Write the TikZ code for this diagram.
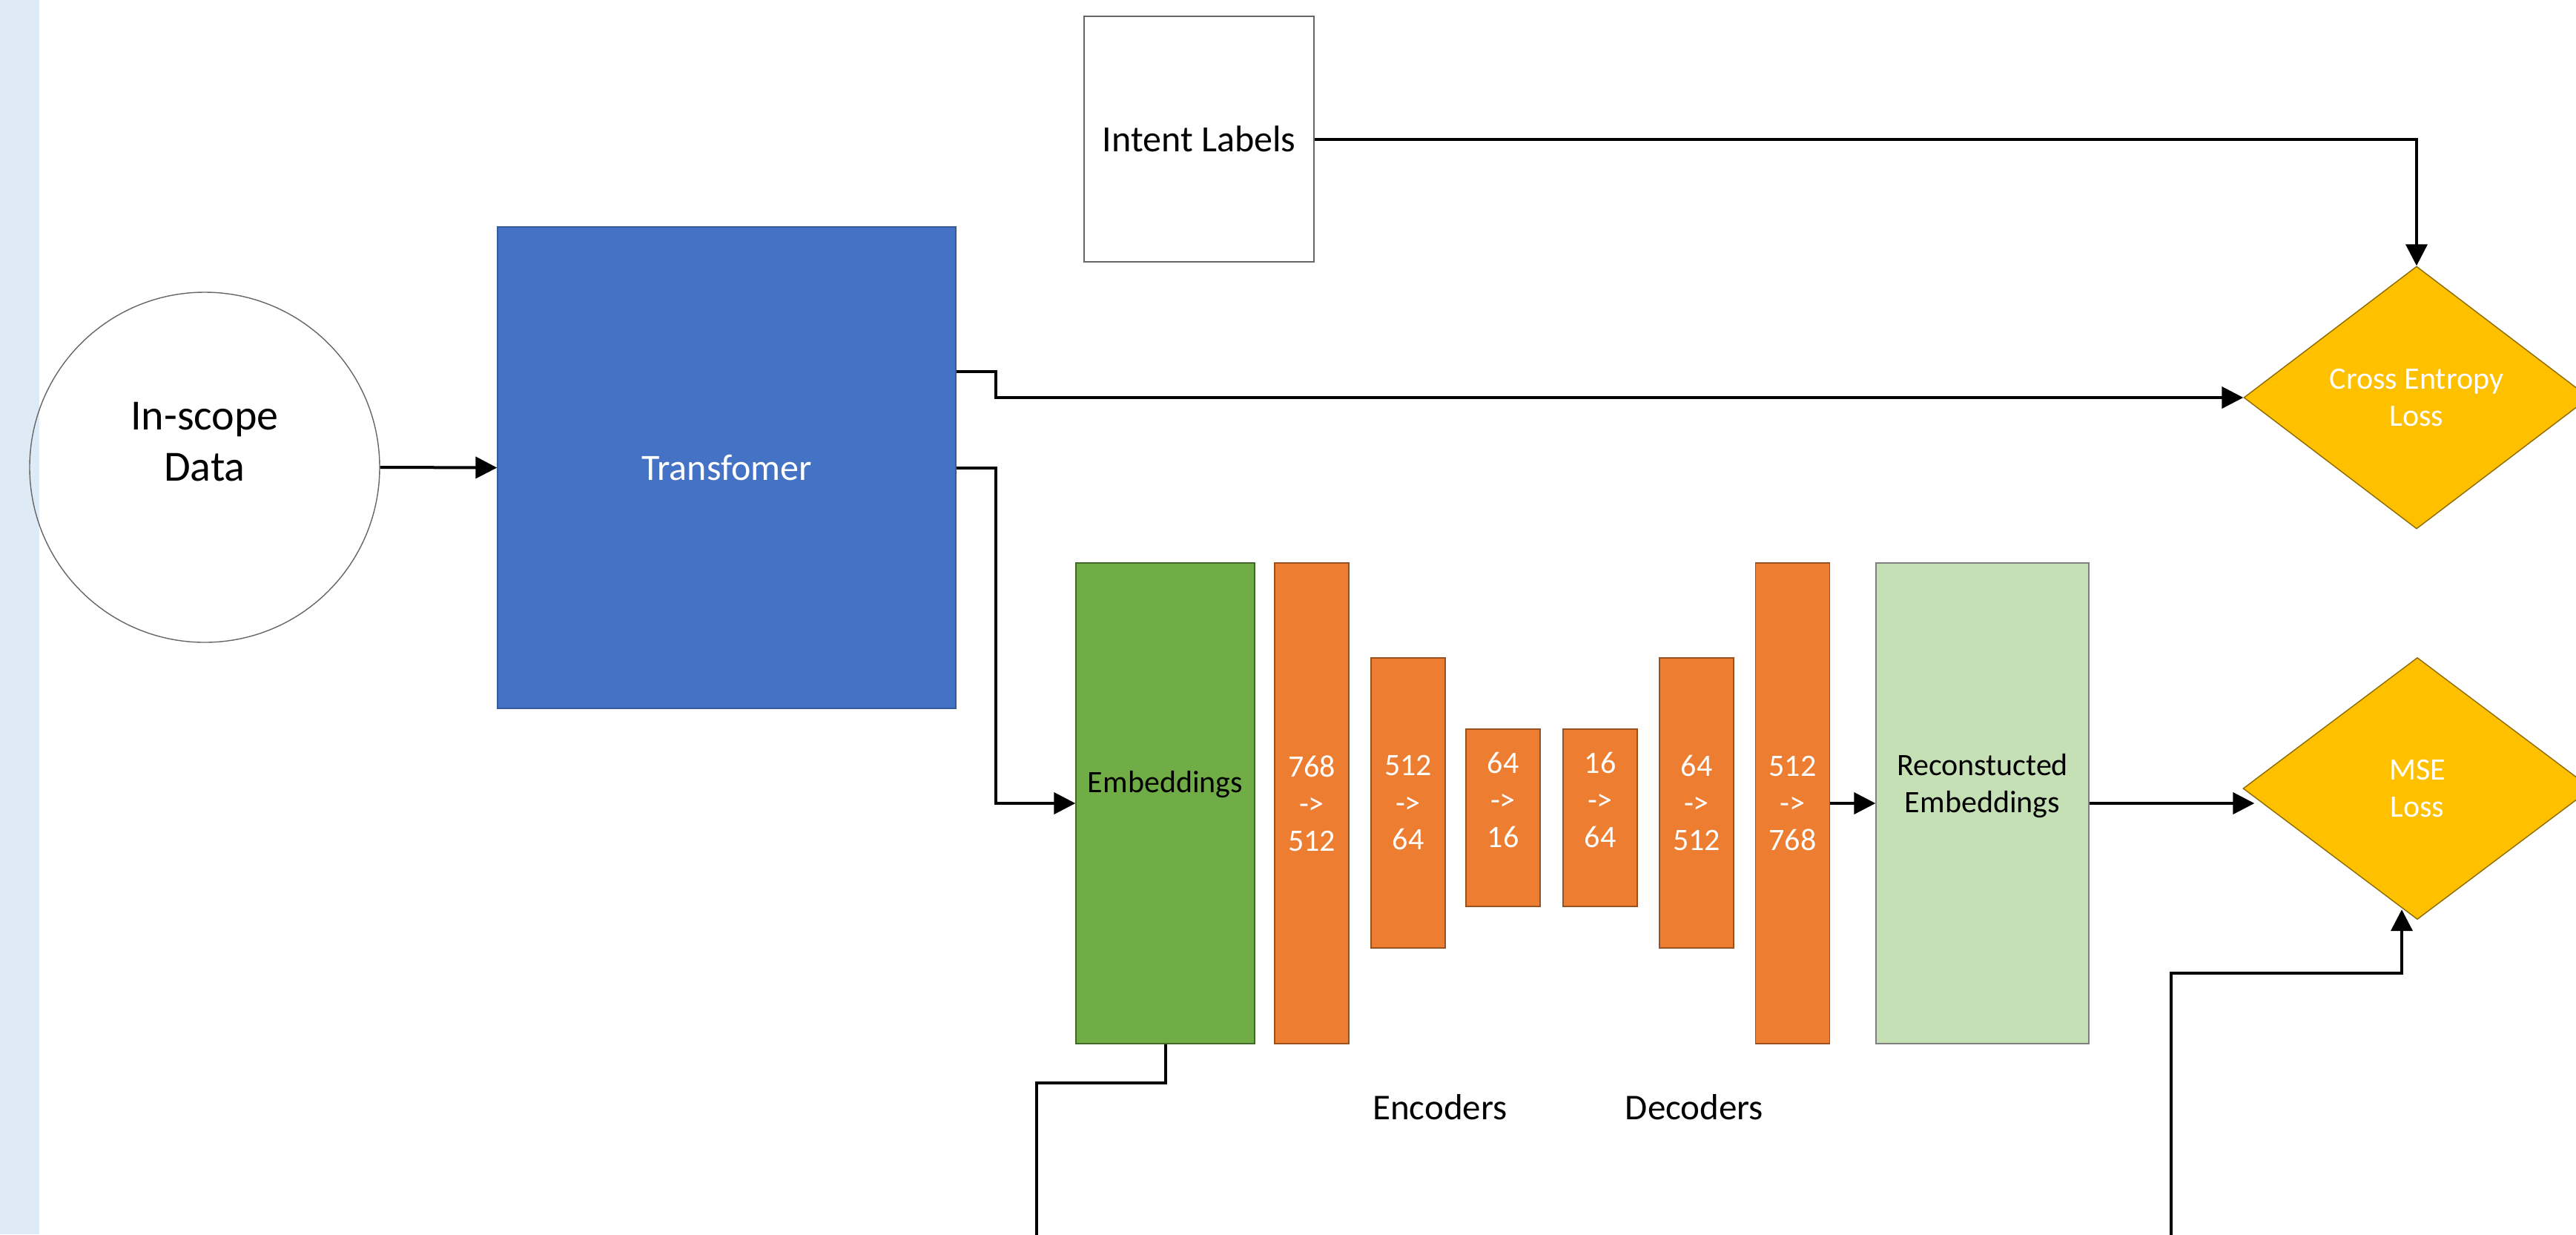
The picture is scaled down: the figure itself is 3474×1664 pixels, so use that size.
\documentclass[tikz,border=0pt]{standalone}
\usepackage{fontspec}
\setmainfont{Carlito}
\usetikzlibrary{shapes.geometric,arrows.meta,calc}
\definecolor{bandblue}{RGB}{222,235,247}
\definecolor{tblue}{RGB}{68,114,196}
\definecolor{egreen}{RGB}{112,173,71}
\definecolor{lgreen}{RGB}{197,224,180}
\definecolor{orng}{RGB}{237,125,49}
\definecolor{gold}{RGB}{255,192,0}
\begin{document}
\begin{tikzpicture}[x=0.25pt,y=-0.25pt,
  box/.style={rectangle,inner sep=0pt,line width=0.35pt},
  layer/.style={box,fill=orng,draw=orng!65!black,minimum width=25pt,text=white,align=center,font=\fontsize{10.5}{12.5}\selectfont},
  tall/.style={minimum height=162pt},
  mid/.style={minimum height=97.75pt},
  short/.style={minimum height=59.75pt},
  lossbox/.style={diamond,inner sep=0pt,fill=gold,draw=gold!55!black,line width=0.35pt,text=white,align=center,font=\fontsize{10.5}{12.5}\selectfont},
  lbl/.style={inner sep=0pt,align=center},
  conn/.style={line width=1pt},
  arr/.style={conn,-{Triangle[length=7.25pt,width=7.25pt]}}
]
\useasboundingbox (0,0) rectangle (3474,1664);
\clip (0,0) rectangle (3474,1664);
\fill[bandblue] (0,0) rectangle (53,1664);

% nodes
\node[circle,draw=black!60,line width=0.35pt,minimum size=118pt,inner sep=0pt] (data) at (276,630) {};
\node[lbl,font=\fontsize{14.5}{17.25}\selectfont] (datatxt) at (276,596) {In-scope\\Data};

\node[box,fill=tblue,draw=tblue!80!black,minimum width=154.5pt,minimum height=162.25pt,text=white,font=\fontsize{12.5}{15}\selectfont] (tr) at (980,630.5) {Transfomer};

\node[box,draw=black!60,fill=white,minimum width=77.5pt,minimum height=82.75pt,font=\fontsize{12.5}{15}\selectfont] (il) at (1617,187.5) {Intent Labels};

\node[lossbox,minimum width=116.5pt,minimum height=88.5pt] (ce) at (3259,536) {Cross Entropy\\Loss};
\node[lossbox,minimum width=117.5pt,minimum height=88.25pt] (mse) at (3260,1063) {MSE\\Loss};

\node[box,fill=egreen,draw=egreen!60!black,minimum width=60.25pt,tall] (emb) at (1571.5,1083) {};
\node[lbl,font=\fontsize{10.5}{12.5}\selectfont] (embtxt) at (1571.5,1058) {Embeddings};

\node[layer,tall] (o1) at (1769,1083) {768\\->\\512};
\node[layer,mid] (o2) at (1899,1082.5) {512\\->\\64};
\node[layer,short] (o3) at (2027,1102.5) {};
\node[lbl,text=white,font=\fontsize{10.5}{12.5}\selectfont] (o3txt) at (2027,1078) {64\\->\\16};
\node[layer,short] (o4) at (2158,1102.5) {};
\node[lbl,text=white,font=\fontsize{10.5}{12.5}\selectfont] (o4txt) at (2158,1078) {16\\->\\64};
\node[layer,mid] (o5) at (2288,1082.5) {64\\->\\512};
\node[layer,tall] (o6) at (2417.5,1083) {512\\->\\768};

\node[box,fill=lgreen,draw=black!50,minimum width=71.75pt,tall] (rec) at (2673.5,1083) {};
\node[lbl,font=\fontsize{10.5}{12.5}\selectfont] (rectxt) at (2673.5,1060) {Reconstucted\\Embeddings};

\node[lbl,font=\fontsize{12.25}{14.5}\selectfont] (enc) at (1942,1493) {Encoders};
\node[lbl,font=\fontsize{12.25}{14.5}\selectfont] (dec) at (2285,1493) {Decoders};

\coordinate (bl1) at (1398,1720);
\coordinate (bl2) at (2928,1720);

% connectors
\draw[arr] (data.east) -- (tr.west);
\draw[arr] (il.east) -| (ce.north);
\draw[arr] ([yshift=32.5pt]tr.east) -- ++(53,0) |- (ce.west);
\draw[arr] (tr.east) -- ++(53,0) |- (emb.west);
\draw[arr] (o6.east) -- (rec.west);
\draw[arr] (rec.east) -- ([xshift=4pt]rec.east -| mse.west);
\draw[conn] (emb.south) -- ++(0,52) -| (bl1);
\draw[arr] (bl2) |- ([xshift=-5.25pt,yshift=-18pt]mse.south) -- ([xshift=-5.25pt,yshift=3.5pt]mse.south);
\end{tikzpicture}
\end{document}
